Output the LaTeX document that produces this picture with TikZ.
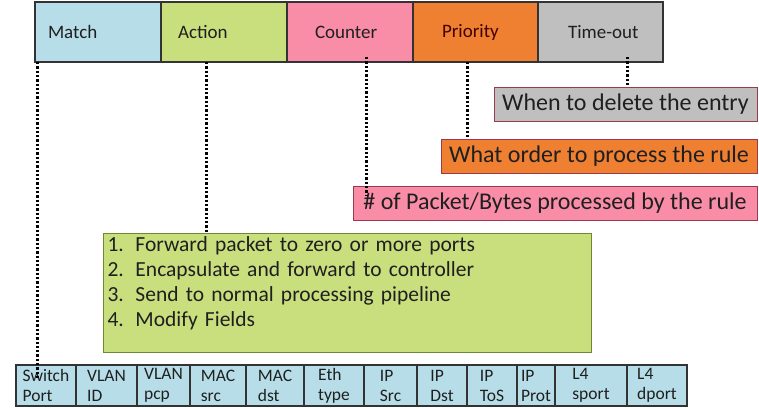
\documentclass[tikz,border=0pt]{standalone}
\usepackage{fontspec}
\setmainfont{Carlito}
\usepackage{xcolor}
\usetikzlibrary{positioning}
\definecolor{matchblue}{HTML}{B7DEE8}
\definecolor{actiongreen}{HTML}{C9DF7E}
\definecolor{counterpink}{HTML}{F98DA8}
\definecolor{priorange}{HTML}{EF8032}
\definecolor{timegray}{HTML}{BFBFBF}
\definecolor{boxedge}{HTML}{333333}
\definecolor{rededge}{HTML}{9A3B4B}
\definecolor{greenedge}{HTML}{6E8A30}
\definecolor{inktext}{HTML}{1F1F1F}

\tikzset{
  hdr/.style={draw=boxedge, line width=1.3pt, minimum height=60pt, anchor=north west,
    align=left, font=\fontsize{19}{22}\selectfont, text=inktext, outer sep=0pt},
  note/.style={draw=rededge, line width=1pt, anchor=north east, minimum height=34pt,
    font=\fontsize{24}{26}\selectfont, text=inktext, inner sep=0pt, outer sep=0pt},
  cell/.style={draw=boxedge, line width=1.2pt, fill=matchblue, minimum height=41pt,
    align=left, font=\fontsize{17.5}{20}\selectfont, text=inktext, inner sep=0pt, outer sep=0pt},
  dotline/.style={line width=3pt, dash pattern=on 2.3pt off 2pt, black}
}

\begin{document}
\begin{tikzpicture}[x=1pt, y=-1pt, node distance=0pt]
  \useasboundingbox[fill=white] (0,0) rectangle (759,408);

  % flow table entry
  \node[hdr, fill=matchblue, inner xsep=13pt, text width=100pt] (match) at (35,2) {Match};
  \node[hdr, fill=actiongreen, inner xsep=17pt, text width=92pt] (action) at (161,2) {Action};
  \node[hdr, fill=counterpink, inner xsep=28pt, text width=70pt] (counter) at (287,2) {Counter};
  \node[hdr, fill=priorange, inner xsep=29pt, text width=67pt, text=black!75!red] (priority) at (413,2) {Priority};
  \node[hdr, fill=timegray, inner xsep=30pt, text width=65pt] (timeout) at (538,2) {\mbox{Time-out}};

  % what each field means
  \node[note, fill=timegray, minimum width=263pt] (delnote) at (757,87) {When to delete the entry};
  \node[note, fill=priorange, minimum width=316pt] (ordnote) at (757,139) {What order to process the rule};
  \node[note, fill=counterpink, minimum width=404pt] (pktnote) at (757,186) {\# of Packet/Bytes processed by the rule};

  % actions
  \node[draw=greenedge, line width=1pt, fill=actiongreen, anchor=north west, align=left,
    text width=480pt, inner xsep=4pt, inner ysep=5pt, text height=13pt, text depth=96pt,
    font=\fontsize{21.5}{25}\selectfont, text=inktext] (actlist) at (103,233) {%
    \makebox[28pt][l]{1.}Forward packet to zero or more ports\\
    \makebox[28pt][l]{2.}Encapsulate and forward to controller\\
    \makebox[28pt][l]{3.}Send to normal processing pipeline\\
    \makebox[28pt][l]{4.}Modify Fields};

  % match fields
  \node[cell, minimum width=60pt, anchor=north west] (swport) at (16,365) {Switch\\Port};
  \node[cell, minimum width=61pt, right=of swport] (vlanid) {VLAN\\ID};
  \node[cell, minimum width=53pt, right=of vlanid] (vlanpcp) {VLAN\\pcp};
  \node[cell, minimum width=56pt, right=of vlanpcp] (macsrc) {MAC\\src};
  \node[cell, minimum width=58pt, right=of macsrc] (macdst) {MAC\\dst};
  \node[cell, minimum width=60pt, right=of macdst] (ethtype) {Eth\\type};
  \node[cell, minimum width=53pt, right=of ethtype] (ipsrc) {IP\\Src};
  \node[cell, minimum width=50pt, right=of ipsrc] (ipdst) {IP\\Dst};
  \node[cell, minimum width=50pt, right=of ipdst] (iptos) {IP\\ToS};
  \node[cell, minimum width=38pt, right=of iptos] (ipprot) {IP\\Prot};
  \node[cell, minimum width=72pt, right=of ipprot] (sport) {L4\\sport};
  \node[cell, minimum width=60pt, right=of sport] (dport) {L4\\dport};

  % dotted links
  \draw[dotline] ([xshift=2pt]match.south west) -- ([xshift=21pt,yshift=-15pt]swport.north west);
  \draw[dotline] ([xshift=45pt]action.south west) -- ([xshift=103pt]actlist.north west);
  \draw[dotline] ([xshift=79pt,yshift=5pt]counter.south west) -- ([xshift=13pt,yshift=-9pt]pktnote.north west);
  \draw[dotline] ([xshift=54pt]priority.south west) -- ([xshift=26pt]ordnote.north west);
  \draw[dotline] ([xshift=89pt,yshift=5pt]timeout.south west) -- ([xshift=133pt]delnote.north west);
\end{tikzpicture}
\end{document}
